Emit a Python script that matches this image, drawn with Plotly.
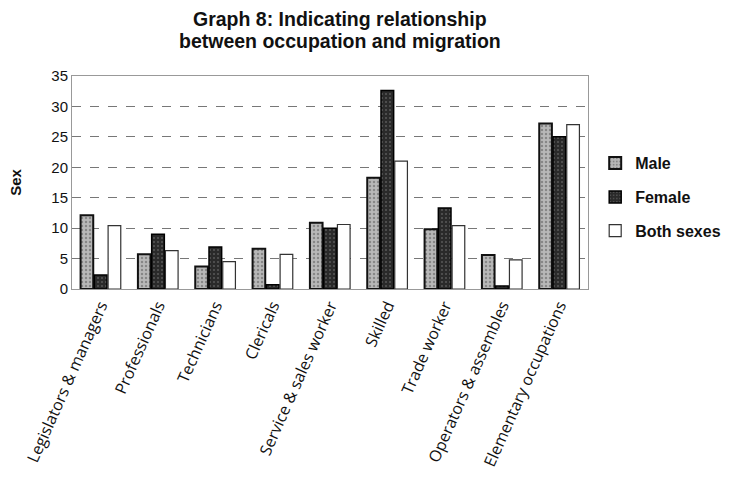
import plotly.graph_objects as go

categories = ["Legislators & managers", "Professionals", "Technicians", "Clericals",
              "Service & sales worker", "Skilled", "Trade worker",
              "Operators & assembles", "Elementary occupations"]
male = [12.1, 5.7, 3.7, 6.6, 10.9, 18.3, 9.8, 5.6, 27.2]
female = [2.3, 9.0, 6.9, 0.7, 10.0, 32.6, 13.3, 0.5, 25.0]
both = [10.4, 6.3, 4.5, 5.7, 10.6, 21.0, 10.4, 4.8, 27.0]
y_ticks = [0, 5, 10, 15, 20, 25, 30, 35]
title_lines = ["Graph 8: Indicating relationship", "between occupation and migration"]

fig = go.Figure()
fig.add_bar(name="Male", x=categories, y=male, legendgroup="m",
            marker=dict(color="#b8b8b8", line=dict(color="#111111", width=2),
                        pattern=dict(shape=".", fgcolor="#555555", size=4, solidity=0.3)))
fig.add_bar(name="Female", x=categories, y=female, legendgroup="f",
            marker=dict(color="#2a2a2a", line=dict(color="#000000", width=1.5),
                        pattern=dict(shape=".", fgcolor="#888888", size=4, solidity=0.2)))
fig.add_bar(name="Both sexes", x=categories, y=both, legendgroup="b",
            marker=dict(color="white", line=dict(color="#333333", width=1.2)))

for i, line in enumerate(title_lines):
    fig.add_annotation(text="<b>" + line + "</b>", xref="paper", yref="paper",
                       x=0.519, y=1.0, xanchor="center", yanchor="bottom",
                       yshift=44 - 22 * i, showarrow=False,
                       font=dict(size=19.5, color="#111111", family="Liberation Sans, Arial, sans-serif"))

fig.update_layout(
    width=733, height=481,
    margin=dict(l=72, r=145, t=76, b=192, autoexpand=False),
    paper_bgcolor="white", plot_bgcolor="white",
    barmode="group", bargap=0.28, bargroupgap=0.08,
    font=dict(family="Liberation Sans, Arial, sans-serif", color="#111111"),
    legend=dict(xref="container", yref="container", x=0.812, y=0.59,
                xanchor="left", yanchor="middle",
                font=dict(size=16, color="#111111", weight="bold"),
                bordercolor="#cccccc", borderwidth=0, tracegroupgap=10,
                itemwidth=30),
    showlegend=True,
)
fig.update_yaxes(range=[0, 35], tickvals=y_ticks, showgrid=True,
                 gridcolor="#777777", griddash="dash", gridwidth=1,
                 tickfont=dict(size=15), ticks="", ticklen=0,
                 title=dict(text="<b>Sex</b>", font=dict(size=15), standoff=26),
                 showline=True, linecolor="#999999", linewidth=1, mirror=True, zeroline=False)
fig.update_xaxes(tickangle=-66, tickfont=dict(size=16, family="Open Sans, sans-serif"),
                 showline=True, linecolor="#999999", linewidth=1, mirror=True)

fig.write_html("out.html")
